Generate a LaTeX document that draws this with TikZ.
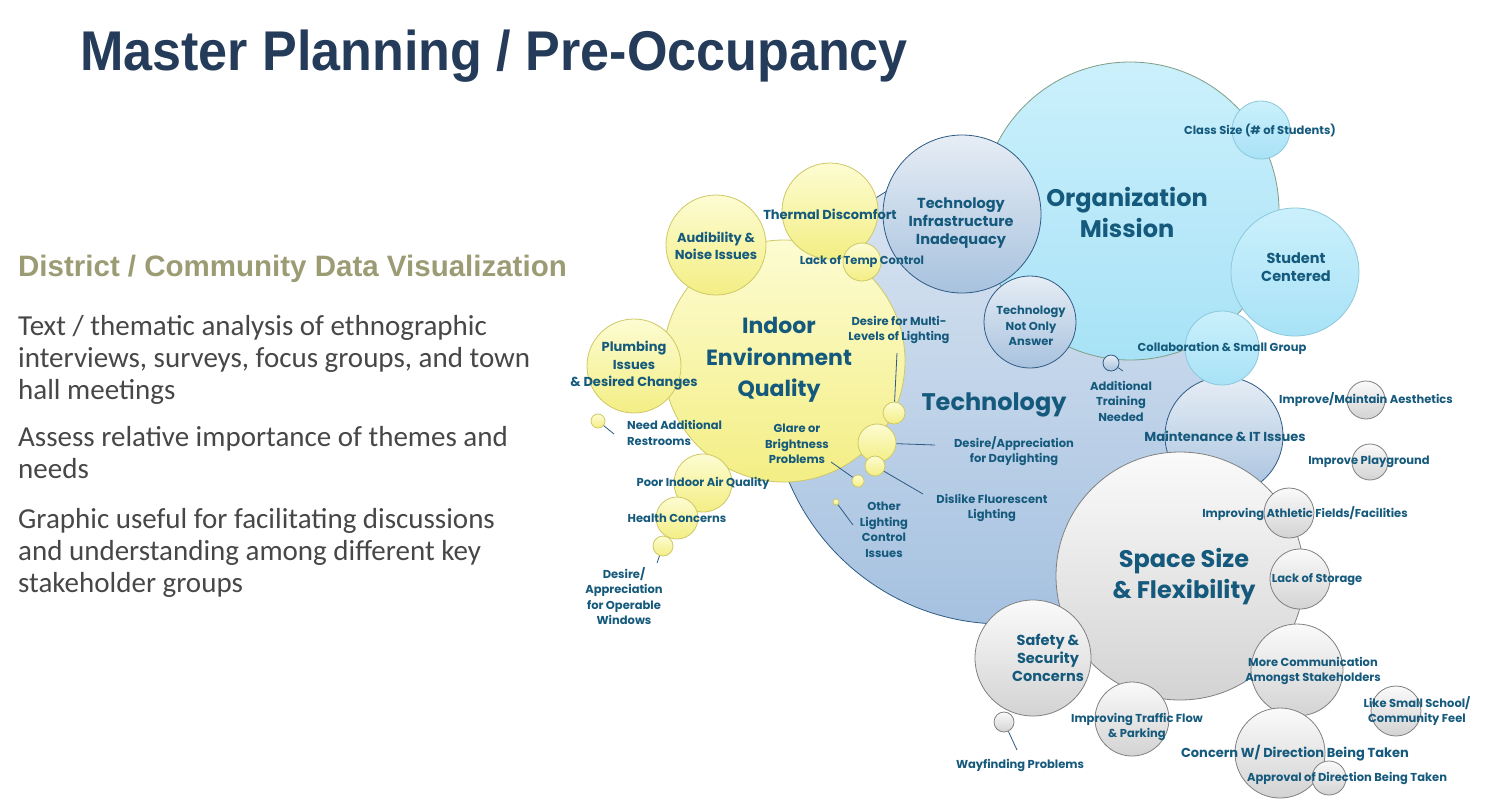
\documentclass[tikz,border=0pt]{standalone}
\usepackage{fontspec}
\setmainfont{Carlito}
\newfontfamily\titlefont[FakeStretch=0.93]{Liberation Sans}
\newfontfamily\subfont{Liberation Sans}
\newfontfamily\bubfont{Poppins}
\usetikzlibrary{positioning}

\definecolor{ylwtop}{HTML}{FDFCD2}
\definecolor{ylwbot}{HTML}{F3EE84}
\definecolor{ylwline}{HTML}{CEC865}
\definecolor{cyntop}{HTML}{CBF0FC}
\definecolor{cynbot}{HTML}{A8E2F6}
\definecolor{cynline}{HTML}{8CC8DC}
\definecolor{orgline}{HTML}{7E9E86}
\definecolor{blutop}{HTML}{E6EDF5}
\definecolor{blubot}{HTML}{A8C2DE}
\definecolor{techtop}{HTML}{DCE6F2}
\definecolor{techbot}{HTML}{A5C1E0}
\definecolor{bluline}{HTML}{2F5B85}
\definecolor{grytop}{HTML}{FAFAFA}
\definecolor{grybot}{HTML}{D3D3D3}
\definecolor{gryline}{HTML}{808080}
\definecolor{lblc}{HTML}{155A7C}
\definecolor{titlec}{HTML}{243B5A}
\definecolor{subc}{HTML}{9C9C74}
\definecolor{bodyc}{HTML}{474747}

\begin{document}
\begin{tikzpicture}[x=1pt, y=-1pt,
  bub/.style={circle, inner sep=0pt, line width=0.8pt},
  ylw/.style={bub, draw=ylwline, top color=ylwtop, bottom color=ylwbot},
  cyn/.style={bub, draw=cynline, top color=cyntop, bottom color=cynbot},
  blu/.style={bub, draw=bluline, top color=blutop, bottom color=blubot},
  gry/.style={bub, draw=gryline, top color=grytop, bottom color=grybot},
  lbl/.style={text=lblc, align=center, inner sep=1pt, font=\bubfont\bfseries\fontsize{11.5}{15.5}\selectfont},
  lblm/.style={lbl, font=\bubfont\bfseries\fontsize{13}{17.5}\selectfont},
  lbll/.style={lbl, font=\bubfont\bfseries\fontsize{14.5}{18}\selectfont},
  lblb/.style={lbl, font=\bubfont\bfseries\fontsize{24}{31}\selectfont},
  lead/.style={draw=bluline, line width=0.8pt},
  body/.style={text=bodyc, align=left, inner sep=0pt, anchor=north west, font=\fontsize{29}{32}\selectfont}
]
\useasboundingbox[fill=white] (0,0) rectangle (1488,807);

% left column
\node[anchor=base west, inner sep=0pt, text=titlec, font=\titlefont\bfseries\fontsize{56}{60}\selectfont] (title) at (80,70) {Master Planning / Pre-Occupancy};
\node[anchor=base west, inner sep=0pt, text=subc, font=\subfont\bfseries\fontsize{29.5}{32}\selectfont] (sub) at (18,276) {District / Community Data Visualization};
\node[body] (p1) at (18,315) {Text / thematic analysis of ethnographic\\interviews, surveys, focus groups, and town\\hall meetings};
\node[body] (p2) at (18,426) {Assess relative importance of themes and\\needs};
\node[body] (p3) at (18,508) {Graphic useful for facilitating discussions\\and understanding among different key\\stakeholder groups};

% blue / cyan bubbles
\node[blu, minimum size=464pt, top color=techtop, bottom color=techbot] (tech) at (1003,392) {};
\node[cyn, draw=orgline, minimum size=298pt] (org) at (1130,211) {};
\node[blu, minimum size=158pt] (infra) at (962,214) {};
\node[blu, minimum size=92pt] (notonly) at (1030,322) {};
\node[blu, minimum size=16pt] (train) at (1111,363) {};
\node[cyn, minimum size=58pt] (cls) at (1261,130) {};
\node[cyn, minimum size=128pt] (stud) at (1295,272) {};
\node[blu, minimum size=118pt] (maint) at (1224,436) {};
\node[cyn, minimum size=74pt] (collab) at (1222,348) {};

% grey bubbles
\node[gry, minimum size=38pt] (aesth) at (1366,400) {};
\node[gry, minimum size=36pt] (play) at (1370,462) {};
\node[gry, minimum size=248pt] (space) at (1180,576) {};
\node[gry, minimum size=50pt] (athl) at (1289,513) {};
\node[gry, minimum size=60pt] (stor) at (1300,579) {};
\node[gry, minimum size=92pt] (comm) at (1297,670) {};
\node[gry, minimum size=50pt] (small) at (1396,711) {};
\node[gry, minimum size=90pt] (concern) at (1280,753) {};
\node[gry, minimum size=34pt] (approv) at (1329,778) {};
\node[gry, minimum size=116pt] (safe) at (1033,658) {};
\node[gry, minimum size=74pt] (traf) at (1132,719) {};
\node[gry, minimum size=20pt] (way) at (1004,722) {};

% yellow bubbles
\node[ylw, minimum size=242pt] (ieq) at (784,361) {};
\node[ylw, minimum size=100pt] (aud) at (716,245) {};
\node[ylw, minimum size=96pt] (therm) at (830,211) {};
\node[ylw, minimum size=38pt] (temp) at (862,262) {};
\node[ylw, minimum size=94pt] (plumb) at (634,366) {};
\node[ylw, minimum size=14pt] (rest) at (598,421) {};
\node[ylw, minimum size=22pt] (multi) at (894,413) {};
\node[ylw, minimum size=38pt] (day) at (877,443) {};
\node[ylw, minimum size=20pt] (fluor) at (875,466) {};
\node[ylw, minimum size=12pt] (glare) at (858,481) {};
\node[ylw, minimum size=6pt] (othl) at (836,502) {};
\node[ylw, minimum size=58pt] (air) at (703,483) {};
\node[ylw, minimum size=42pt] (health) at (677,518) {};
\node[ylw, minimum size=20pt] (wind) at (663,546) {};

% labels
\node[lblb] (orgL) at (1127,212) {Organization\\Mission};
\node[lblb] (techL) at (994,405) {Technology};
\node[lblb] (spaceL) at (1184,577) {Space Size\\\& Flexibility};
\node[lblb, font=\bubfont\bfseries\fontsize{22}{31.5}\selectfont] (ieqL) at (779,360) {Indoor\\Environment\\Quality};
\node[lbll] (infraL) at (961,223) {Technology\\Infrastructure\\Inadequacy};
\node[lbll] (studL) at (1296,267) {Student\\Centered};
\node[lbll] (safeL) at (1048,658) {Safety \&\\Security\\Concerns};
\node[lblm] (maintL) at (1225,436) {Maintenance \& IT Issues};
\node[lblm] (audL) at (716,246) {Audibility \&\\Noise Issues};
\node[lblm] (thermL) at (830,214) {Thermal Discomfort};
\node[lblm] (plumbL) at (634,366) {Plumbing\\Issues\\\& Desired Changes};
\node[lblm] (concernL) at (1295,753) {Concern W/ Direction Being Taken};
\node[lbl] (clsL) at (1260,130) {Class Size (\# of Students)};
\node[lbl] (collabL) at (1222,348) {Collaboration \& Small Group};
\node[lbl] (notonlyL) at (1031,326) {Technology\\Not Only\\Answer};
\node[lbl] (trainL) at (1121,401) {Additional\\Training\\Needed};
\node[lbl] (aesthL) at (1366,400) {Improve/Maintain Aesthetics};
\node[lbl] (playL) at (1369,462) {Improve Playground};
\node[lbl] (athlL) at (1305,514) {Improving Athletic Fields/Facilities};
\node[lbl] (storL) at (1317,580) {Lack of Storage};
\node[lbl] (commL) at (1313,671) {More Communication\\Amongst Stakeholders};
\node[lbl] (smallL) at (1417,711) {Like Small School/\\Community Feel};
\node[lbl] (approvL) at (1347,778) {Approval of Direction Being Taken};
\node[lbl] (trafL) at (1137,727) {Improving Traffic Flow\\\& Parking};
\node[lbl] (wayL) at (1020,765) {Wayfinding Problems};
\node[lbl] (tempL) at (862,262) {Lack of Temp Control};
\node[lbl] (multiL) at (899,330) {Desire for Multi-\\Levels of Lighting};
\node[lbl, align=left, anchor=west] (restL) at (626,433) {Need Additional\\Restrooms};
\node[lbl] (glareL) at (797,444) {Glare or\\Brightness\\Problems};
\node[lbl] (dayL) at (1014,451) {Desire/Appreciation\\for Daylighting};
\node[lbl] (fluorL) at (992,508) {Dislike Fluorescent\\Lighting};
\node[lbl] (othlL) at (884,530) {Other\\Lighting\\Control\\Issues};
\node[lbl] (airL) at (703,483) {Poor Indoor Air Quality};
\node[lbl] (healthL) at (677,518) {Health Concerns};
\node[lbl] (windL) at (624,596) {Desire/\\Appreciation\\for Operable\\Windows};

% leader lines
\coordinate (restE) at (614,434);
\coordinate (multiE) at (897,353);
\coordinate (dayE) at (935,445);
\coordinate (fluorE) at (923,494);
\coordinate (glareE) at (831,462);
\coordinate (othlE) at (853,525);
\coordinate (windE) at (657,563);
\coordinate (wayE) at (1017,750);
\coordinate (trainE) at (1123,371);
\draw[lead] (rest) -- (restE);
\draw[lead] (multi) -- (multiE);
\draw[lead] (day) -- (dayE);
\draw[lead] (fluor) -- (fluorE);
\draw[lead] (glare) -- (glareE);
\draw[lead] (othl) -- (othlE);
\draw[lead] (wind) -- (windE);
\draw[lead] (way) -- (wayE);
\draw[lead] (train) -- (trainE);
\end{tikzpicture}
\end{document}
